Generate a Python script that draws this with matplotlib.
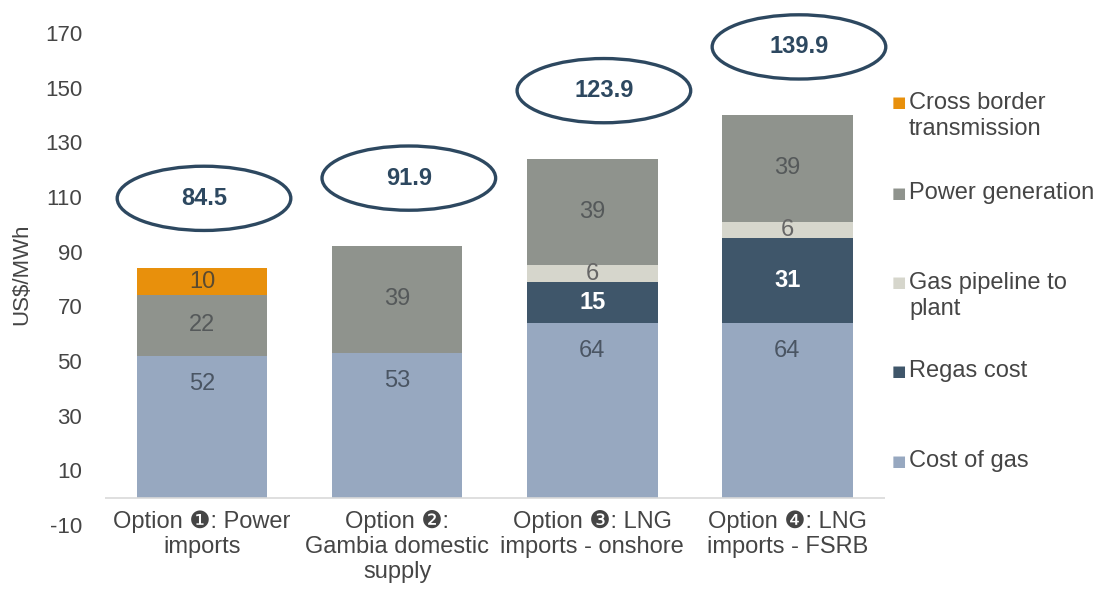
import matplotlib
matplotlib.use("Agg")
import matplotlib.pyplot as plt
from matplotlib.patches import Ellipse

plt.rcParams['font.family'] = ['Liberation Sans', 'DejaVu Sans']
plt.rcParams['axes.unicode_minus'] = False

# data
options = ["Option \u2776: Power\nimports",
           "Option \u2777:\nGambia domestic\nsupply",
           "Option \u2778: LNG\nimports - onshore",
           "Option \u2779: LNG\nimports - FSRB"]
cost_of_gas = [52, 53, 64, 64]
regas_cost = [0, 0, 15, 31]
gas_pipeline = [0, 0, 6, 6]
power_generation = [22, 39, 39, 39]
cross_border = [10, 0, 0, 0]
totals = [84.5, 91.9, 123.9, 139.9]
yticks = list(range(-10, 171, 20))

series = [("Cost of gas", cost_of_gas, "#97a8c0", "#4a5563", False),
          ("Regas cost", regas_cost, "#3f566a", "white", True),
          ("Gas pipeline to\nplant", gas_pipeline, "#d6d6cc", "#666666", False),
          ("Power generation", power_generation, "#8f938d", "#55595a", False),
          ("Cross border\ntransmission", cross_border, "#e8900c", "#5a4a30", False)]

fig = plt.figure(figsize=(11.06, 5.93), dpi=100)
ax = fig.add_axes([0.0945, 0.1147, 0.7055, 0.8297])

x = list(range(len(options)))
bottom = [0] * len(options)
for name, vals, col, tcol, bold in series:
    ax.bar(x, vals, bottom=bottom, width=0.67, color=col, label=name)
    for i, v in enumerate(vals):
        if v == 0:
            continue
        # cost of gas labels sit near the top of the segment
        if name == "Cost of gas":
            ty = bottom[i] + v - 10.5
        else:
            ty = bottom[i] + v / 2
        ax.text(i, ty, str(v), ha='center', va='center', fontsize=17,
                color=tcol, fontweight='bold' if bold else 'normal')
    bottom = [b + v for b, v in zip(bottom, vals)]

# totals in ellipses
for i, t in enumerate(totals):
    cx = i + (0.01 if i == 0 else 0.06)
    cy = t + 25
    ax.add_patch(Ellipse((cx, cy), 0.89, 23.5, fill=False, edgecolor="#2d4860",
                         linewidth=2.4, clip_on=False))
    ax.text(cx, cy, f"{t:.1f}", ha='center', va='center', fontsize=17,
            fontweight='bold', color="#2d4860", clip_on=False)

ax.set_xlim(-0.5, 3.5)
ax.set_ylim(-10, 170)
ax.set_yticks(yticks)
ax.tick_params(axis='y', length=0, pad=16, labelsize=16, labelcolor="#454545")
ax.set_xticks([])
for s in ax.spines.values():
    s.set_visible(False)
ax.axhline(0, color="#d9d9d9", linewidth=1.2)
ax.set_ylabel("US$/MWh", fontsize=16, color="#454545", labelpad=8)
ax.yaxis.set_label_coords(-0.092, 0.51)

for i, lab in enumerate(options):
    ax.text(i, -4.6, lab, ha='center', va='top', fontsize=17, color="#454545",
            linespacing=1.17, clip_on=False)

# legend drawn by hand, top to bottom
leg_y = [116, 193, 296, 371, 461]
for (name, vals, col, tcol, bold), py in zip(series[::-1], leg_y):
    fy = 1 - py / 593
    sq = fy + 13.5 / 593 if "\n" in name else fy
    fig.text(899 / 1106, sq, "\u25a0", color=col,
             fontsize=11, ha='center', va='center', family='DejaVu Sans')
    fig.text(909 / 1106, fy, name, ha='left', va='center', fontsize=17,
             color="#454545", linespacing=1.25)

fig.savefig("out.png", dpi=100)
